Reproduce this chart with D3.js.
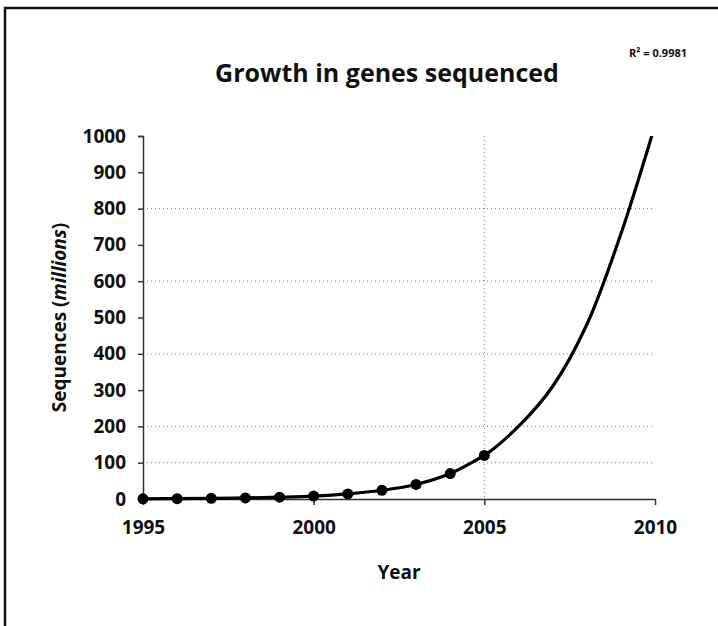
<!DOCTYPE html>
<html>
<head>
<meta charset="utf-8">
<title>Growth in genes sequenced</title>
<script src="https://d3js.org/d3.v7.min.js"></script>
<style type="text/css">
    body { margin: 0; background: #fff; }
    svg text { font-family: "Open Sans", sans-serif; font-weight: 700; fill: #111; }
    .grid line { stroke: #777; stroke-width: 1px; stroke-dasharray: 1,3; }
    .axis path, .axis line { stroke: #333; stroke-width: 1.5px; }
</style>
</head>
<body>
<div id="chart"></div>
<script type="text/javascript">

    // sequences in millions
    var years = [1995, 1996, 1997, 1998, 1999, 2000, 2001, 2002, 2003, 2004, 2005];
    var sequences = [0.5, 1, 1.8, 3, 5, 8, 14, 24, 40, 70, 120];

    // trendline forecast to 2010 (estimated from the curve)
    var trendYears = [2004, 2005, 2006, 2007, 2008, 2009, 2010];
    var trendValues = [70, 120, 200, 310, 480, 730, 1030];

    var yTicks = [0, 100, 200, 300, 400, 500, 600, 700, 800, 900, 1000];
    var yGrid = [100, 200, 400, 600, 800];
    var xTicks = [1995, 2000, 2005, 2010];
    var xGrid = [2005];

    var width = 718, height = 626;
    var margin = { top: 136, right: 63, bottom: 127, left: 143 };

    var svg = d3.select("#chart").append("svg")
        .attr("width", width)
        .attr("height", height);

    // frame: only top and left edges show in the scan
    svg.append("path")
        .attr("d", "M5," + height + "V8H" + width)
        .attr("fill", "none")
        .attr("stroke", "#111")
        .attr("stroke-width", 2.5);

    var x = d3.scaleLinear()
        .domain([1995, 2010])
        .range([margin.left, width - margin.right]);

    var y = d3.scaleLinear()
        .domain([0, 1000])
        .range([height - margin.bottom, margin.top]);

    svg.append("defs").append("clipPath")
        .attr("id", "plot-clip")
      .append("rect")
        .attr("x", x(2005))
        .attr("y", y(1000))
        .attr("width", x(2010) - x(2005) + 16)
        .attr("height", y(0) - y(1000) + 8);

    // gridlines
    var grid = svg.append("g").attr("class", "grid");
    grid.selectAll(".hgrid")
        .data(yGrid)
      .enter().append("line")
        .attr("x1", x(1995))
        .attr("x2", x(2010))
        .attr("y1", function(d) { return y(d); })
        .attr("y2", function(d) { return y(d); });
    grid.selectAll(".vgrid")
        .data(xGrid)
      .enter().append("line")
        .attr("x1", function(d) { return x(d); })
        .attr("x2", function(d) { return x(d); })
        .attr("y1", y(1000))
        .attr("y2", y(0));

    // axes
    svg.append("g")
        .attr("class", "axis")
        .attr("transform", "translate(" + x(1995) + ",0)")
        .call(d3.axisLeft(y).tickValues(yTicks).tickSize(5).tickSizeOuter(5).tickPadding(12).tickFormat(d3.format("d")));

    svg.append("g")
        .attr("class", "axis")
        .attr("transform", "translate(0," + y(0) + ")")
        .call(d3.axisBottom(x).tickValues(xTicks).tickSize(6).tickSizeOuter(0).tickPadding(16).tickFormat(d3.format("d")));

    svg.selectAll(".axis text")
        .style("font-size", "19px")
        .style("font-family", "'Open Sans', sans-serif")
        .style("font-weight", 700)
        .attr("fill", "#111");

    var line = d3.line()
        .x(function(d) { return x(d[0]); })
        .y(function(d) { return y(d[1]); })
        .curve(d3.curveCatmullRom);

    // trendline
    svg.append("path")
        .datum(d3.zip(trendYears, trendValues))
        .attr("clip-path", "url(#plot-clip)")
        .attr("d", line)
        .attr("fill", "none")
        .attr("stroke", "#000")
        .attr("stroke-width", 3.2);

    // data series
    var pts = d3.zip(years, sequences);
    svg.append("path")
        .datum(pts)
        .attr("d", line)
        .attr("fill", "none")
        .attr("stroke", "#000")
        .attr("stroke-width", 3.2);

    svg.selectAll(".dot")
        .data(pts)
      .enter().append("circle")
        .attr("class", "dot")
        .attr("cx", function(d) { return x(d[0]); })
        .attr("cy", function(d) { return y(d[1]); })
        .attr("r", 5.5)
        .attr("fill", "#000");

    // titles
    svg.append("text")
        .attr("x", 387)
        .attr("y", 82)
        .attr("text-anchor", "middle")
        .style("font-size", "25px")
        .text("Growth in genes sequenced");

    svg.append("text")
        .attr("x", 658)
        .attr("y", 57)
        .attr("text-anchor", "middle")
        .style("font-size", "11px")
        .text("R² = 0.9981");

    svg.append("text")
        .attr("x", (x(1995) + x(2010)) / 2)
        .attr("y", 579)
        .attr("text-anchor", "middle")
        .style("font-size", "19px")
        .text("Year");

    var ylab = svg.append("text")
        .attr("transform", "translate(66," + (y(500)) + ") rotate(-90)")
        .attr("text-anchor", "middle")
        .style("font-size", "19px");
    ylab.append("tspan").text("Sequences (");
    ylab.append("tspan").style("font-style", "italic").text("millions");
    ylab.append("tspan").text(")");

</script>
</body>
</html>
